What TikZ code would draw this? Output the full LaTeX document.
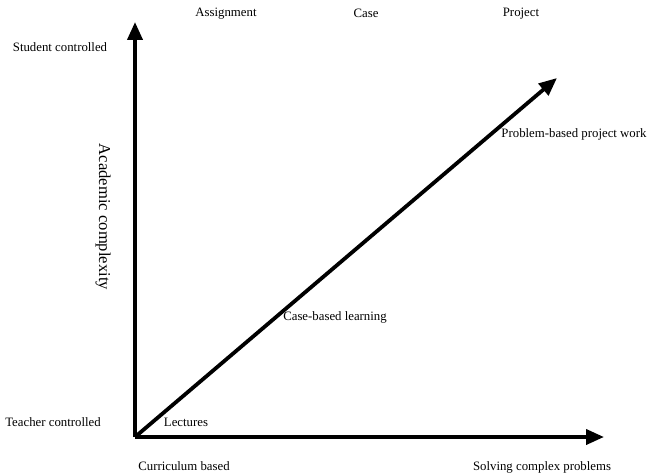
\documentclass[tikz,border=0pt]{standalone}
\usepackage{fontspec}
\setmainfont{Liberation Serif}
\usetikzlibrary{arrows.meta,positioning}

\begin{document}
\begin{tikzpicture}[
    x=1pt, y=1pt,
    label/.style={font=\fontsize{12.8}{14}\selectfont, inner sep=0pt},
    axislabel/.style={font=\fontsize{16.6}{18}\selectfont, inner sep=0pt},
    axis/.style={-{Triangle[length=18pt,width=15pt]}, line width=3.8pt}
  ]
  \useasboundingbox (0,0) rectangle (647,475);

  % Axis points
  \coordinate (origin) at (135,38);
  \coordinate (ytip) at (135,453);
  \coordinate (xtip) at (604,38);
  \coordinate (dtip) at (557,397);

  % Axes
  \draw[axis] (origin) -- (ytip);
  \draw[axis] (origin) -- (xtip);
  \draw[axis] (origin) -- (dtip);

  % Top labels
  \node[label] (assignment) at (226,461) {Assignment};
  \node[label] (case) at (366,462) {Case};
  \node[label] (project) at (521,461) {Project};

  % Left labels
  \node[label] (student) at (60,428) {Student controlled};
  \node[label] (teacher) at (53,53) {Teacher controlled};
  \node[axislabel, rotate=-90] (complexity) at (103,258) {Academic complexity};

  % Labels along the diagonal
  \node[label] (pbl) at (574,341) {Problem-based project work};
  \node[label] (cbl) at (335,158) {Case-based learning};
  \node[label] (lectures) at (186,53) {Lectures};

  % Bottom labels
  \node[label] (curriculum) at (184,9) {Curriculum based};
  \node[label] (solving) at (542,8) {Solving complex problems};

\end{tikzpicture}
\end{document}
